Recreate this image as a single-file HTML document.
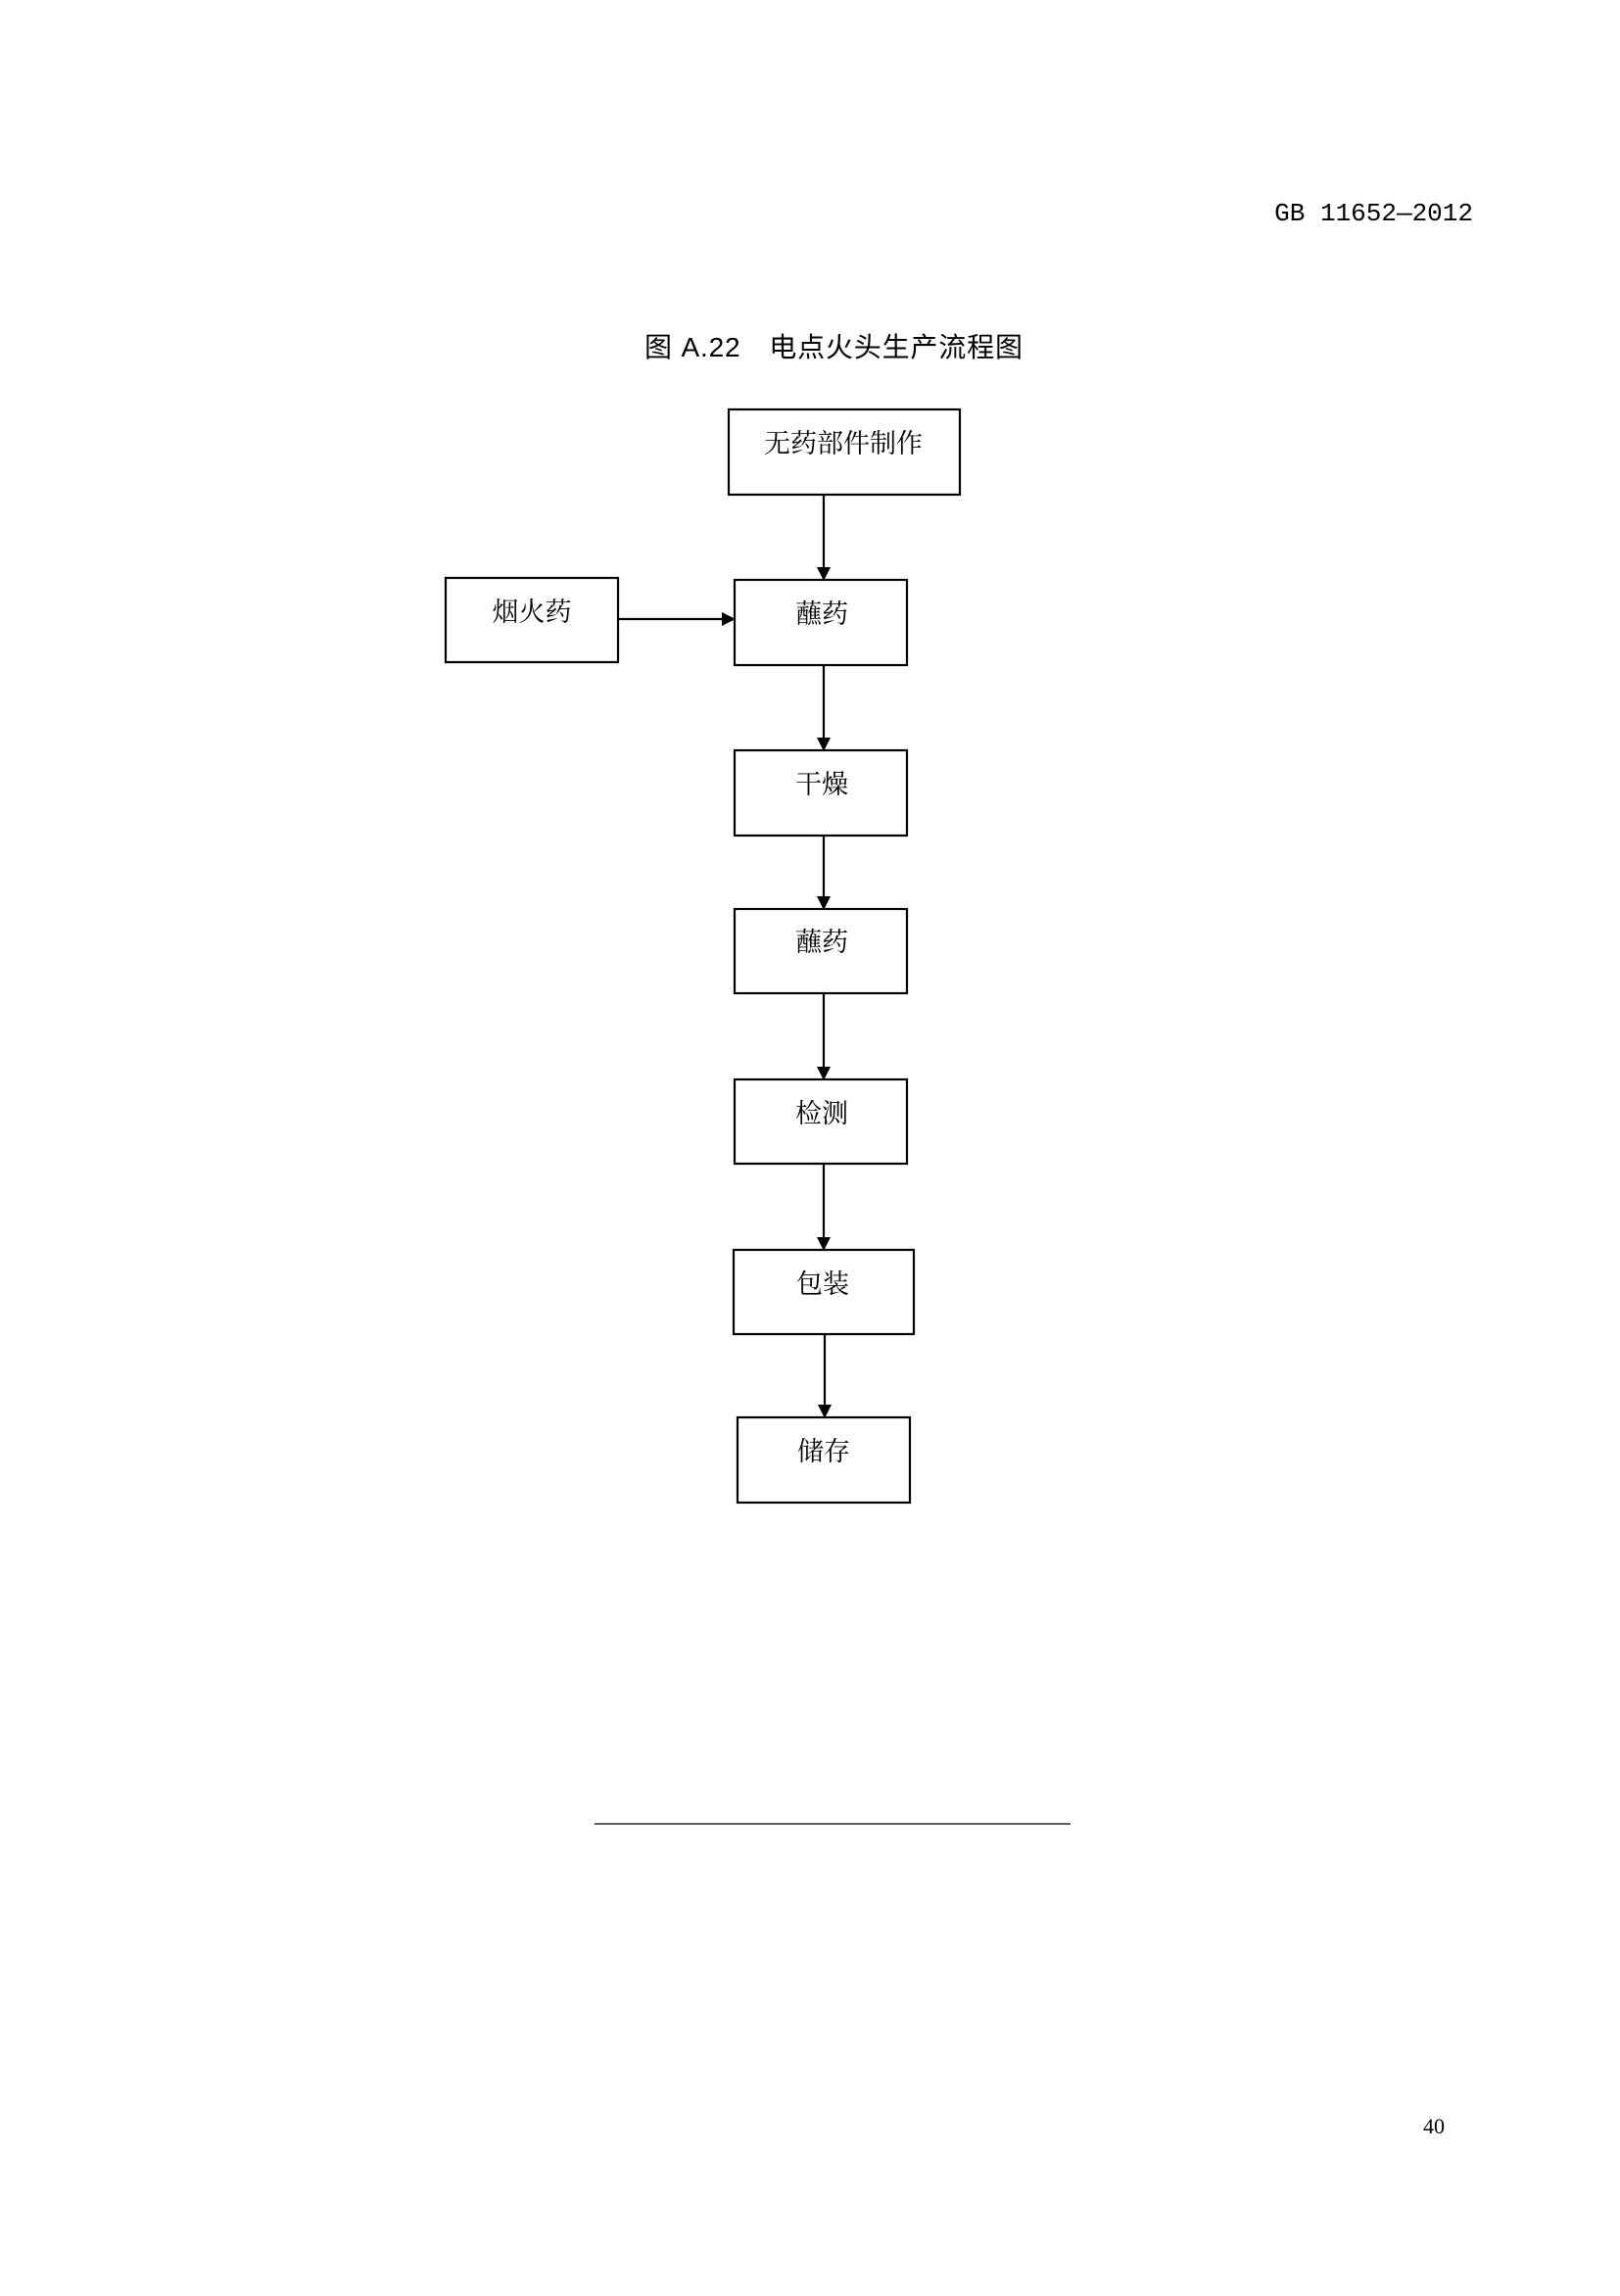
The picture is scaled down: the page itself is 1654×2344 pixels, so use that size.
<!DOCTYPE html>
<html><head><meta charset="utf-8"><style>
body{margin:0;background:#fff}
svg text{font-family:"Liberation Serif","Noto Serif CJK SC",serif;}
</style></head><body>
<svg width="1654" height="2339" xmlns="http://www.w3.org/2000/svg">
<text x="1504" y="225" text-anchor="end" font-size="26" style='font-family:"Liberation Mono","Noto Sans CJK SC",monospace'>GB 11652—2012</text>
<text x="658" y="364" font-size="28" textLength="386" lengthAdjust="spacing" style='font-family:"Liberation Sans","Noto Sans CJK SC",sans-serif'>图 A.22　电点火头生产流程图</text>
<g transform="translate(4,5)">
<g fill="none" stroke="#000" stroke-width="2.2">
<rect x="740" y="413" width="236" height="87"/>
<rect x="451" y="585" width="176" height="86"/>
<rect x="746" y="587" width="176" height="87"/>
<rect x="746" y="761" width="176" height="87"/>
<rect x="746" y="923" width="176" height="86"/>
<rect x="746" y="1097" width="176" height="86"/>
<rect x="745" y="1271" width="184" height="86"/>
<rect x="749" y="1442" width="176" height="87"/>
<line x1="837" y1="500" x2="837" y2="575"/>
<line x1="627" y1="627" x2="735" y2="627"/>
<line x1="837" y1="674" x2="837" y2="749"/>
<line x1="837" y1="848" x2="837" y2="911"/>
<line x1="837" y1="1009" x2="837" y2="1085"/>
<line x1="837" y1="1183" x2="837" y2="1259"/>
<line x1="838" y1="1357" x2="838" y2="1430"/>
</g>
<g fill="#000">
<polygon points="830,574 844,574 837,588"/>
<polygon points="733,620 733,634 747,627"/>
<polygon points="830,748 844,748 837,762"/>
<polygon points="830,910 844,910 837,924"/>
<polygon points="830,1084 844,1084 837,1098"/>
<polygon points="830,1258 844,1258 837,1272"/>
<polygon points="831,1429 845,1429 838,1443"/>
</g>
<g font-size="27" text-anchor="middle">
<text x="857" y="457">无药部件制作</text>
<text x="539" y="629">烟火药</text>
<text x="835" y="631">蘸药</text>
<text x="835" y="805">干燥</text>
<text x="835" y="966">蘸药</text>
<text x="835" y="1141">检测</text>
<text x="836" y="1315">包装</text>
<text x="837" y="1486">储存</text>
</g>
</g>
<line x1="607" y1="1862" x2="1093" y2="1862" stroke="#000" stroke-width="1.2"/>
<text x="1464" y="2178" text-anchor="middle" font-size="22">40</text>
</svg>
</body></html>
